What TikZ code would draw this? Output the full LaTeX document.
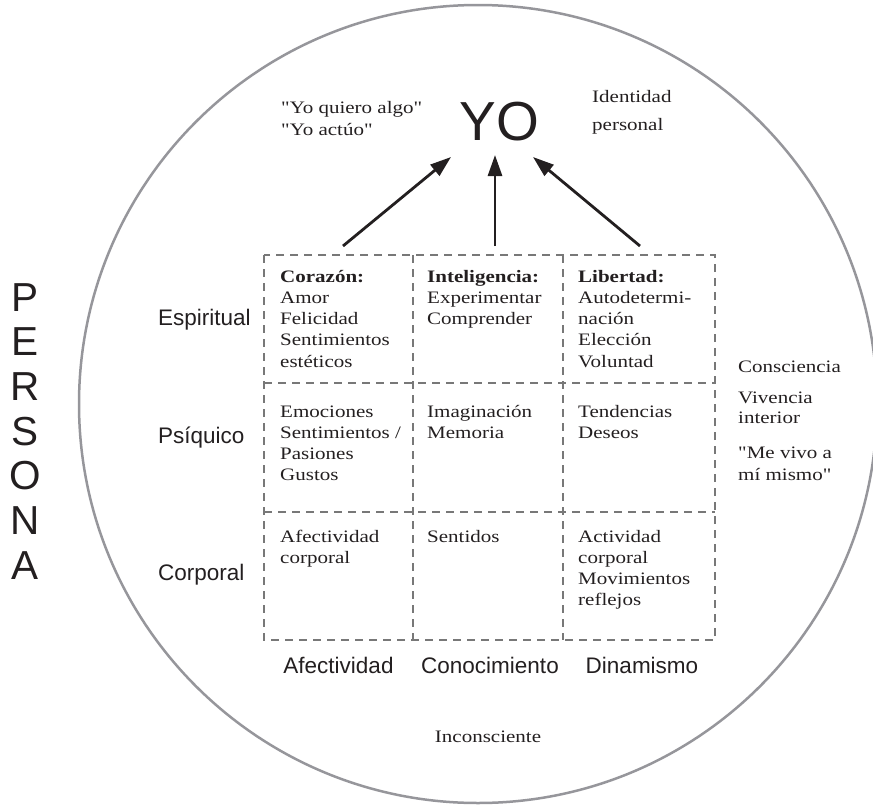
\documentclass[tikz,border=0pt]{standalone}
\usepackage{fontspec}
\setsansfont{Liberation Sans}
\newfontfamily\cellfont[FakeStretch=1.2]{Liberation Serif}
\usetikzlibrary{arrows.meta}
\tikzset{>={Stealth[length=21pt,width=14pt,inset=0pt]}}
\definecolor{rim}{RGB}{150,150,155}
\definecolor{gridgray}{RGB}{120,120,120}
\definecolor{ink}{RGB}{35,31,32}
\newcommand{\filas}[1]{\begin{tabular}[t]{@{}l@{}}#1\end{tabular}}
\tikzset{
  cell/.style={anchor=base west, inner sep=0pt, text=ink, font=\cellfont\fontsize{17.5}{21.3}\selectfont},
  level/.style={anchor=base west, inner sep=0pt, text=ink, font=\sffamily\fontsize{22.5}{27}\selectfont},
  faculty/.style={anchor=base, inner sep=0pt, text=ink, font=\sffamily\fontsize{22.5}{27}\selectfont},
  dashline/.style={color=gridgray, line width=2.8pt, dash pattern=on 8pt off 6pt},
}

\begin{document}
\begin{tikzpicture}[x=1pt,y=-1pt]
    \clip (0,0) rectangle (873,806);
    \draw[color=rim, line width=2.5pt] (478,404) circle (399pt);
    % cuadro de niveles y facultades
    \draw[dashline] (264,255) rectangle (715,640);
    \foreach \x in {413,563} \draw[dashline] (\x,255) -- (\x,640);
    \foreach \y in {383,512} \draw[dashline] (264,\y) -- (715,\y);
    \node (persona) at (25,283) [anchor=north, align=center, inner sep=0pt, text=ink, font=\sffamily\fontsize{40.5}{44.7}\selectfont] {P\\E\\R\\S\\O\\N\\A};
    \node (yo) at (499.5,140) [anchor=base, inner sep=0pt, text=ink, font=\sffamily\fontsize{55}{55}\selectfont] {YO};
    \node (quiero) at (281,113) [cell, font=\cellfont\fontsize{17.5}{22}\selectfont] {\filas{"Yo quiero algo"\\"Yo actúo"}};
    \node (identidad) at (592,102) [cell, font=\cellfont\fontsize{17.5}{28}\selectfont] {\filas{Identidad\\personal}};
    % niveles
    \node (espiritual) at (158,325) [level] {Espiritual};
    \node (psiquico) at (158,443) [level] {Psíquico};
    \node (corporal) at (158,580) [level] {Corporal};
    % facultades
    \node (afectividad) at (338.5,673) [faculty] {Afectividad};
    \node (conocimiento) at (490,673) [faculty] {Conocimiento};
    \node (dinamismo) at (642,673) [faculty] {Dinamismo};
    % celdas
    \node (corazon) at (280,282) [cell] {\filas{\textbf{Corazón:}\\Amor\\Felicidad\\Sentimientos\\estéticos}};
    \node (inteligencia) at (427,282) [cell] {\filas{\textbf{Inteligencia:}\\Experimentar\\Comprender}};
    \node (libertad) at (578,282) [cell] {\filas{\textbf{Libertad:}\\Autodetermi-\\nación\\Elección\\Voluntad}};
    \node (emociones) at (280,417) [cell] {\filas{Emociones\\Sentimientos /\\Pasiones\\Gustos}};
    \node (imaginacion) at (427,417) [cell] {\filas{Imaginación\\Memoria}};
    \node (tendencias) at (578,417) [cell] {\filas{Tendencias\\Deseos}};
    \node (afcorporal) at (280,542) [cell] {\filas{Afectividad\\corporal}};
    \node (sentidos) at (427,542) [cell] {Sentidos};
    \node (actividad) at (578,542) [cell] {\filas{Actividad\\corporal\\Movimientos\\reflejos}};
    % conciencia
    \node (consciencia) at (738,372) [cell] {Consciencia};
    \node (vivencia) at (738,403) [cell, font=\cellfont\fontsize{17.5}{20}\selectfont] {\filas{Vivencia\\interior}};
    \node (mevivo) at (738,458) [cell, font=\cellfont\fontsize{17.5}{22}\selectfont] {\filas{"Me vivo a\\mí mismo"}};
    \node (inconsciente) at (488,742) [cell, anchor=base] {Inconsciente};
    % flechas hacia el yo
    \coordinate (from1) at (343,246);
    \coordinate (from2) at (495,246);
    \coordinate (from3) at (640,246);
    \coordinate (to1) at (451,157);
    \coordinate (to2) at (495,155);
    \coordinate (to3) at (533,157);
    \foreach \i in {1,2,3} \draw[->, color=ink, line width=2.8pt] (from\i) -- (to\i);
\end{tikzpicture}
\end{document}
